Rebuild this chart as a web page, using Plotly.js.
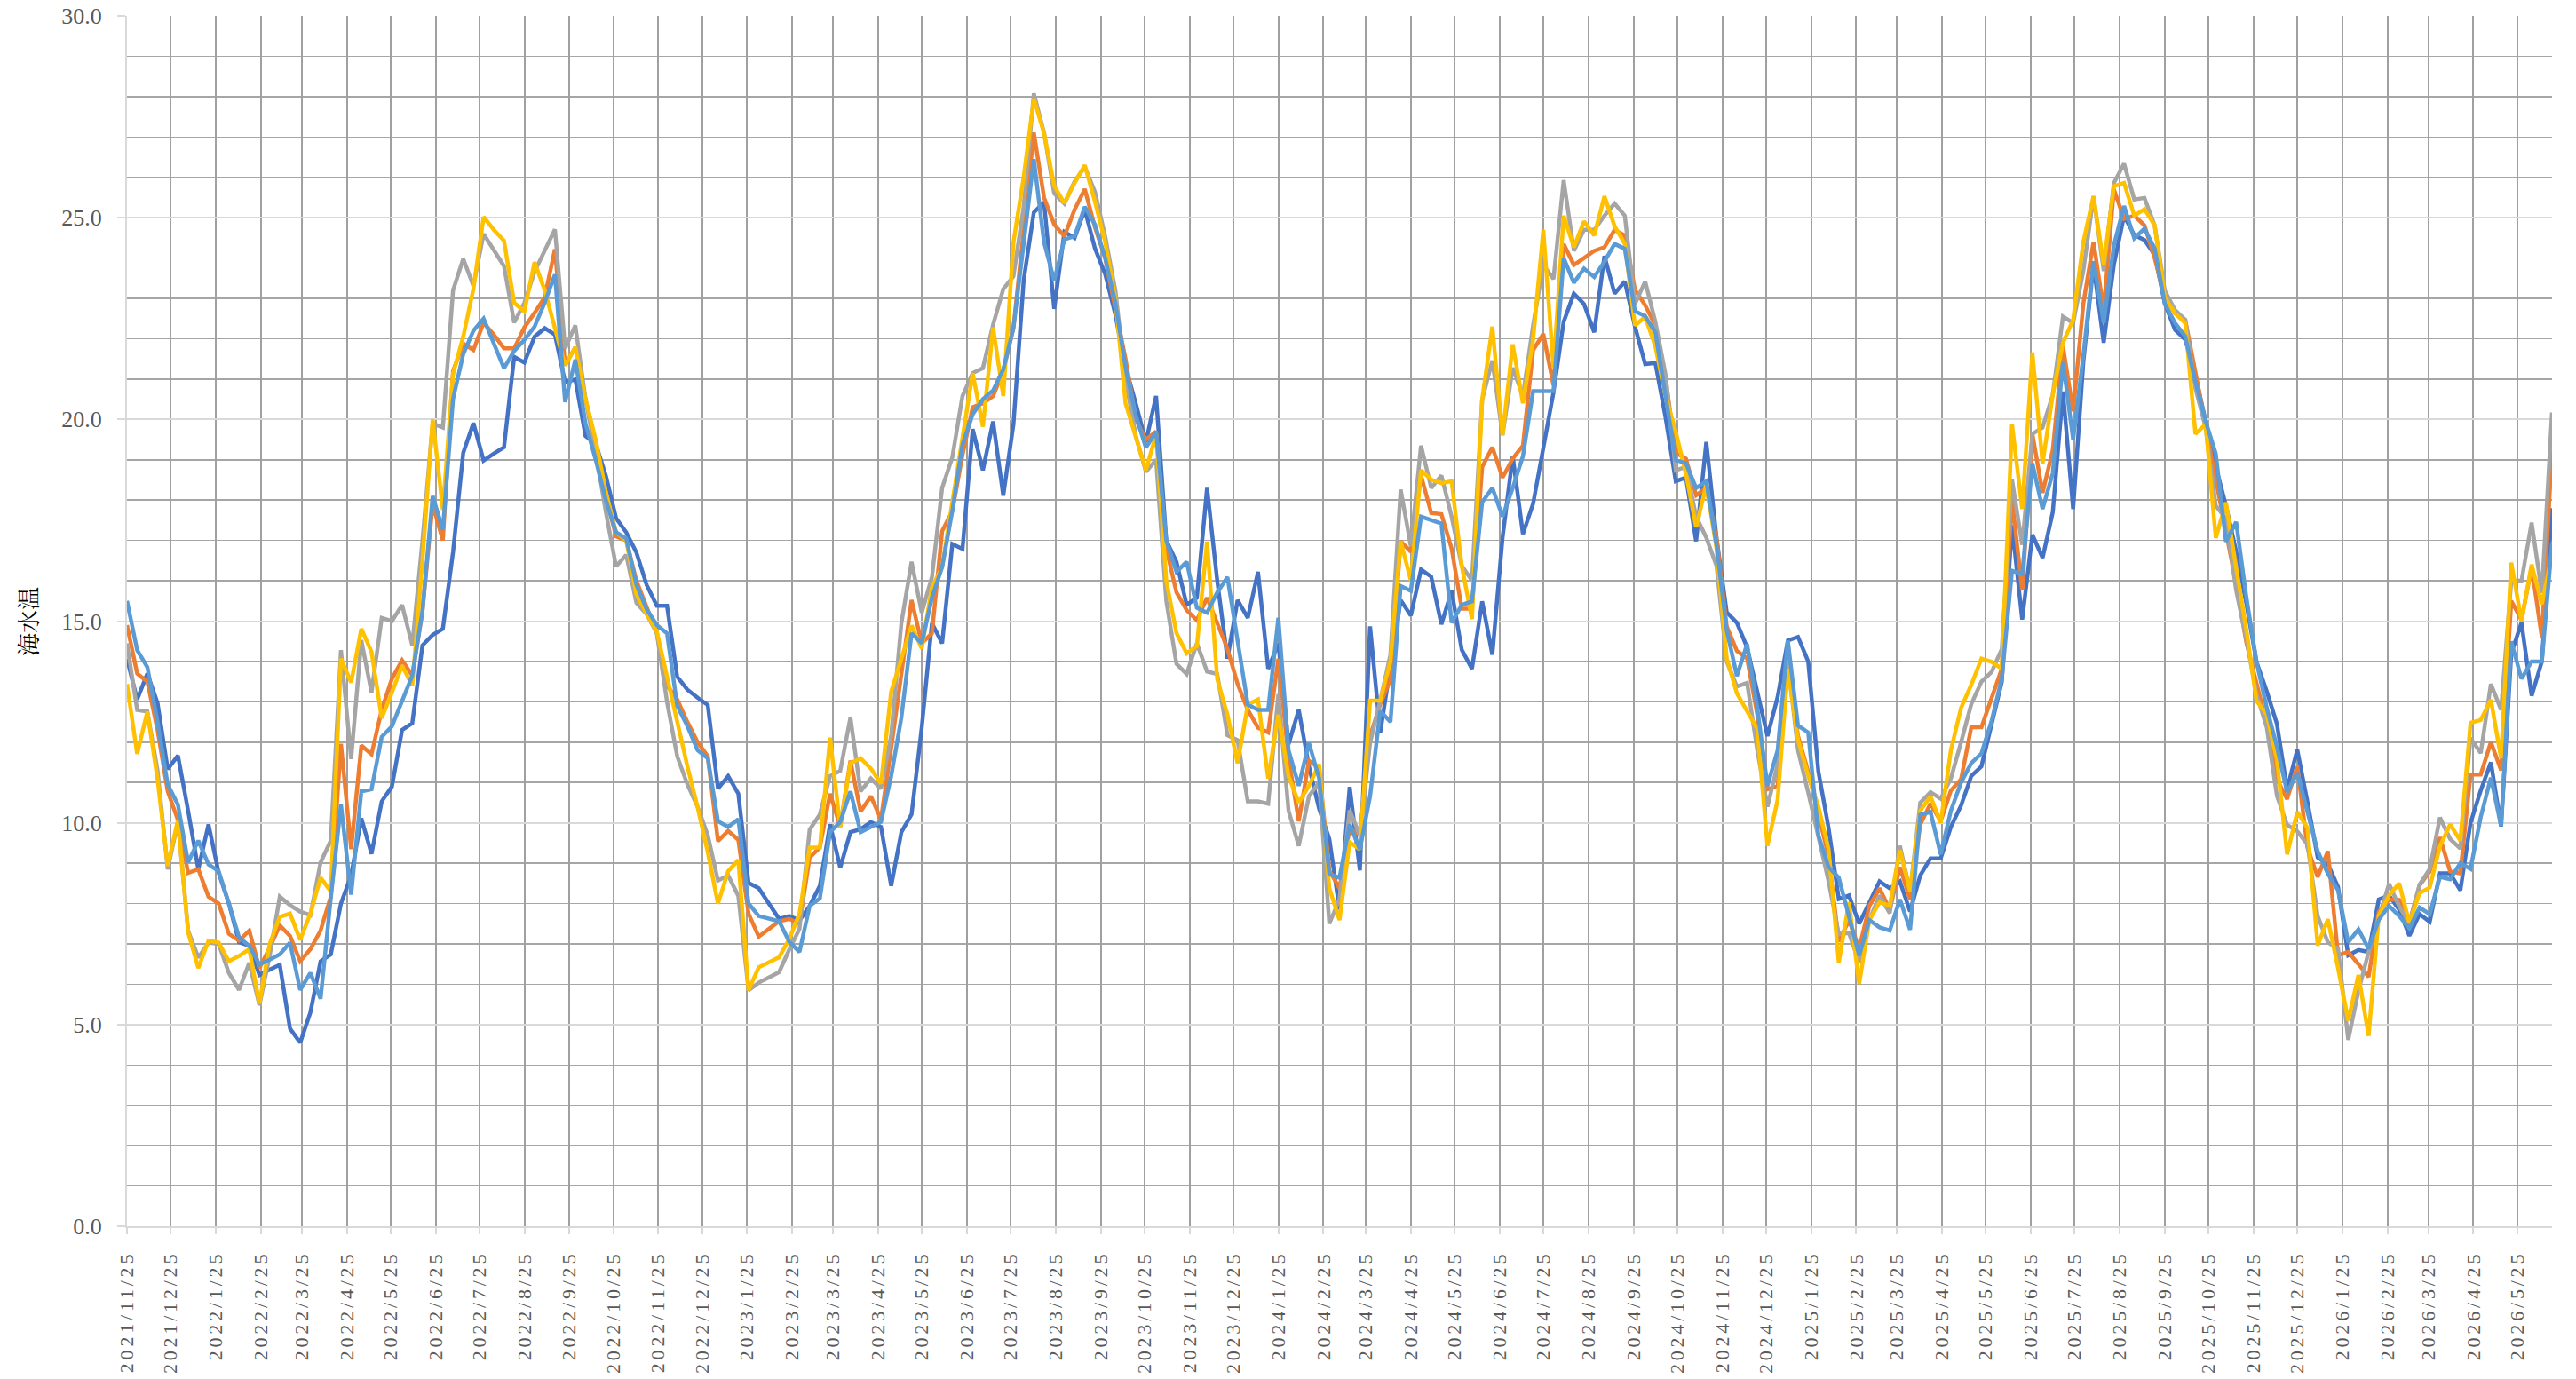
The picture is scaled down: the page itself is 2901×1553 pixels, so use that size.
<!DOCTYPE html>
<html><head><meta charset="utf-8">
<script src="https://cdn.plot.ly/plotly-3.0.1.min.js"></script>
<style>
html,body{margin:0;padding:0;background:#fff;}
#chart{width:2901px;height:1553px;}
.xtick text{letter-spacing:3.8px;}
</style></head><body><div id="chart"></div>
<script>
const startDate = '2021-11-25';
const stepDays = 7;

const tickLabels = ['2021/11/25','2021/12/25','2022/1/25','2022/2/25','2022/3/25','2022/4/25','2022/5/25','2022/6/25','2022/7/25','2022/8/25','2022/9/25','2022/10/25','2022/11/25','2022/12/25',
'2023/1/25','2023/2/25','2023/3/25','2023/4/25','2023/5/25','2023/6/25','2023/7/25','2023/8/25','2023/9/25','2023/10/25','2023/11/25','2023/12/25',
'2024/1/25','2024/2/25','2024/3/25','2024/4/25','2024/5/25','2024/6/25','2024/7/25','2024/8/25','2024/9/25','2024/10/25','2024/11/25','2024/12/25',
'2025/1/25','2025/2/25','2025/3/25','2025/4/25','2025/5/25','2025/6/25','2025/7/25','2025/8/25','2025/9/25','2025/10/25','2025/11/25','2025/12/25',
'2026/1/25','2026/2/25','2026/3/25','2026/4/25','2026/5/25'];

const seriesBlue = [
14.07,13.06,13.7,12.97,11.33,11.67,10.3,8.85,9.96,8.76,
8.0,7.04,6.95,6.23,6.36,6.48,4.9,4.55,5.3,6.57,
6.74,8.0,8.7,10.11,9.23,10.53,10.9,12.3,12.47,14.4,
14.66,14.81,16.71,19.17,19.91,18.98,19.15,19.31,21.55,21.41,
22.05,22.26,22.1,20.92,20.99,19.59,19.4,18.6,17.55,17.2,
16.7,15.9,15.38,15.38,13.62,13.3,13.1,12.92,10.85,11.16,
10.72,8.51,8.38,8.0,7.62,7.69,7.58,7.94,8.44,9.96,
8.89,9.77,9.84,10.02,9.9,8.44,9.77,10.21,12.36,14.95,
14.45,16.91,16.79,19.76,18.74,19.95,18.11,19.88,23.44,25.13,
25.38,22.74,24.65,24.5,25.2,24.24,23.6,22.6,21.3,20.4,
19.44,20.58,17.0,16.47,15.4,15.58,18.3,16.0,14.07,15.52,
15.08,16.22,13.82,14.45,11.95,12.8,11.4,10.35,9.6,7.85,
10.89,8.82,14.87,12.24,13.91,15.52,15.14,16.28,16.1,14.92,
15.75,14.29,13.82,15.49,14.17,17.07,19.09,17.16,17.91,19.26,
20.67,22.42,23.12,22.86,22.16,24.05,23.12,23.42,22.3,21.37,
21.4,20.05,18.47,18.56,16.98,19.44,17.07,15.22,14.96,14.35,
13.2,12.15,13.12,14.52,14.61,14.0,11.27,9.87,8.11,8.2,
7.5,8.03,8.55,8.38,8.55,7.8,8.7,9.12,9.12,9.9,
10.43,11.16,11.4,12.45,13.5,17.38,15.04,17.14,16.57,17.7,
20.69,17.78,21.42,23.84,21.9,23.84,25.05,24.57,24.45,24.08,
22.87,22.22,21.98,21.09,19.96,18.83,17.86,16.73,15.44,13.99,
13.26,12.45,10.84,11.81,10.51,9.14,8.98,8.41,6.72,6.85,
6.8,8.1,8.2,7.85,7.2,7.74,7.55,8.75,8.75,8.33,
10.0,10.8,11.5,9.91,14.2,14.96,13.15,14.0,17.8];

const seriesOrange = [
14.9,13.7,13.5,12.3,10.78,10.07,8.76,8.85,8.17,8.0,
7.25,7.08,7.33,6.4,6.9,7.46,7.2,6.57,6.87,7.33,
8.17,11.96,9.35,11.92,11.7,12.8,13.57,14.03,13.65,15.25,
17.9,17.0,21.2,21.88,21.72,22.4,22.1,21.76,21.76,22.28,
22.64,23.03,24.22,21.34,21.79,20.5,19.4,18.1,17.1,17.0,
16.0,15.38,14.7,13.4,13.06,12.5,12.0,11.65,9.55,9.8,
9.58,7.75,7.18,7.37,7.56,7.62,7.5,9.14,9.39,10.72,
9.9,11.54,10.28,10.66,10.09,11.86,13.69,15.52,14.45,14.7,
17.23,17.73,19.12,20.3,20.4,20.58,21.2,22.28,24.68,27.11,
25.5,24.83,24.54,25.2,25.71,24.76,24.0,22.8,21.5,20.0,
19.5,19.7,16.8,15.71,15.27,15.02,15.58,14.95,14.32,13.44,
12.8,12.36,12.24,14.07,11.6,10.04,11.54,11.36,8.82,8.38,
9.87,9.69,12.15,12.94,13.56,16.98,16.72,18.61,17.68,17.65,
16.8,15.31,15.31,18.82,19.31,18.56,19.03,19.35,21.72,22.12,
20.84,24.35,23.83,24.0,24.18,24.27,24.7,24.56,23.21,22.83,
22.33,21.02,19.17,19.03,18.12,18.3,17.07,14.87,14.26,14.08,
12.68,10.83,10.92,14.0,12.15,11.27,10.22,9.17,7.06,7.59,
6.89,7.94,8.38,7.85,8.9,8.11,9.96,10.48,10.04,10.8,
11.08,12.37,12.37,13.1,13.82,18.02,15.76,19.64,18.18,19.24,
21.82,20.2,22.87,24.4,22.71,25.7,24.97,25.05,24.81,24.0,
23.03,22.63,22.47,21.17,19.8,18.51,17.22,15.92,14.47,13.5,
12.45,11.08,10.59,11.4,9.38,8.66,9.3,6.72,6.8,6.5,
6.18,7.8,8.1,8.09,7.52,8.45,8.8,9.64,8.8,8.75,
11.2,11.2,12.0,11.3,15.5,15.03,16.34,14.6,19.25];

const seriesGray = [
14.45,12.8,12.76,11.3,8.85,10.03,7.33,6.66,7.03,7.0,
6.28,5.86,6.53,5.48,6.7,8.17,7.96,7.8,7.71,9.02,
9.56,14.28,11.58,14.53,13.23,15.08,15.0,15.4,14.4,17.0,
19.9,19.8,23.2,23.98,23.31,24.6,24.2,23.8,22.4,22.89,
23.66,24.2,24.71,21.76,22.33,20.5,19.2,17.7,16.36,16.64,
15.45,15.17,14.7,13.0,11.65,10.95,10.4,9.69,8.57,8.7,
8.19,5.85,6.04,6.17,6.3,6.86,7.37,9.83,10.21,11.16,
11.29,12.61,10.78,11.1,10.85,12.17,14.95,16.47,15.21,16.09,
18.3,19.06,20.58,21.15,21.27,22.35,23.23,23.55,25.27,28.08,
27.11,25.6,25.35,25.9,26.26,25.64,24.54,23.2,21.0,19.6,
18.7,19.0,15.5,13.94,13.69,14.45,13.75,13.69,12.17,12.05,
10.53,10.53,10.47,13.19,10.3,9.43,10.66,11.01,7.5,8.11,
10.31,9.69,11.98,13.03,14.17,18.26,16.86,19.35,18.3,18.61,
17.59,16.37,16.01,20.49,21.46,19.61,21.28,20.58,22.33,23.83,
23.48,25.93,24.18,24.7,24.7,25.05,25.35,25.05,22.86,23.42,
22.42,21.11,18.74,18.82,17.59,17.07,16.37,14.0,13.38,13.47,
11.8,10.4,11.45,14.0,11.8,10.75,9.69,8.55,7.24,7.27,
6.54,7.59,8.2,7.76,9.43,8.29,10.5,10.76,10.6,11.1,
12.0,12.94,13.5,13.74,14.31,18.51,16.89,19.64,19.8,20.61,
22.55,22.39,23.68,25.53,23.68,25.86,26.34,25.45,25.49,24.81,
23.19,22.71,22.47,20.77,19.8,17.86,17.54,15.76,14.55,13.18,
12.37,10.67,9.95,9.79,9.46,7.69,7.04,6.88,4.62,5.83,
6.8,7.69,8.49,7.93,7.5,8.47,8.86,10.13,9.6,9.36,
12.1,11.73,13.44,12.8,16.0,16.0,17.44,15.7,20.17];

const seriesYellow = [
13.44,11.71,12.76,11.08,8.93,10.07,7.29,6.4,7.08,7.03,
6.57,6.7,6.87,5.52,7.0,7.67,7.75,7.1,7.75,8.64,
8.3,14.07,13.48,14.81,14.24,12.6,13.23,13.9,13.4,16.5,
20.0,17.76,21.13,22.05,23.24,25.02,24.7,24.43,22.89,22.68,
23.9,23.2,22.26,21.34,21.79,20.5,19.5,18.2,17.2,17.0,
15.66,15.17,14.74,13.6,12.5,11.4,10.39,9.27,8.0,8.8,
9.08,5.85,6.42,6.55,6.67,7.12,7.75,9.39,9.39,12.11,
9.9,11.48,11.6,11.35,10.97,13.25,14.07,14.89,14.32,15.84,
16.34,17.99,19.63,21.15,19.82,22.28,20.58,24.39,26.0,27.95,
27.1,25.79,25.36,25.86,26.3,25.4,24.4,23.0,20.4,19.6,
18.74,19.63,16.0,14.7,14.2,14.38,16.97,13.56,12.68,11.48,
12.93,13.06,11.1,12.68,11.16,10.5,10.92,11.45,8.38,7.59,
9.52,9.34,13.03,13.03,14.0,16.98,16.01,18.74,18.51,18.42,
18.47,16.37,15.05,20.49,22.3,19.61,21.86,20.4,21.98,24.7,
21.28,25.05,24.27,24.91,24.56,25.53,24.79,24.35,22.33,22.54,
21.81,20.58,19.7,18.65,17.33,18.38,16.8,14.08,13.21,12.77,
12.33,9.43,10.57,13.82,12.06,11.18,10.4,9.34,6.54,8.03,
6.01,7.59,8.03,7.95,9.32,8.3,10.3,10.66,10.0,11.8,
12.85,13.42,14.07,13.99,13.82,19.88,17.78,21.66,18.91,20.61,
21.9,22.47,24.4,25.53,23.84,25.78,25.86,25.05,25.21,24.81,
23.03,22.63,22.39,19.64,19.88,17.06,17.94,16.33,14.79,13.02,
12.69,11.56,9.22,10.27,9.87,6.96,7.61,6.4,5.1,6.23,
4.72,7.7,8.2,8.5,7.52,8.26,8.4,9.42,9.96,9.56,
12.48,12.55,13.05,11.6,16.45,15.0,16.4,15.42,16.66];

const seriesLightBlue = [
15.5,14.28,13.86,12.5,10.95,10.45,9.02,9.56,8.97,8.8,
8.0,7.16,6.95,6.49,6.61,6.74,7.03,5.86,6.28,5.64,
8.13,10.45,8.22,10.78,10.83,12.13,12.39,13.0,13.65,15.25,
18.1,17.27,20.5,21.62,22.2,22.5,21.9,21.27,21.7,21.97,
22.3,22.9,23.59,20.43,21.48,19.9,19.0,18.0,17.2,17.05,
15.9,15.3,14.9,14.7,12.9,12.4,11.8,11.6,10.04,9.9,
10.09,8.0,7.69,7.62,7.56,7.05,6.8,7.94,8.13,9.77,
10.02,10.78,9.77,9.9,10.02,11.16,12.61,14.7,14.45,15.58,
16.34,17.73,19.38,20.13,20.5,20.72,21.24,22.26,24.39,26.45,
24.39,23.44,24.46,24.54,25.27,24.83,24.0,22.9,21.3,20.1,
19.3,19.7,17.0,16.22,16.47,15.33,15.21,15.71,16.09,14.57,
12.93,12.8,12.8,15.08,11.8,10.92,11.98,11.1,8.73,8.64,
9.96,9.34,10.66,12.77,12.5,15.87,15.75,17.59,17.5,17.42,
14.96,15.4,15.49,17.95,18.3,17.59,18.3,19.09,20.7,20.7,
20.7,24.0,23.39,23.74,23.53,23.91,24.35,24.23,22.68,22.56,
22.16,20.58,19.0,18.91,18.3,18.47,16.89,14.78,13.64,14.43,
12.85,10.92,11.8,14.52,12.41,12.24,9.69,8.9,8.64,7.68,
6.71,7.59,7.41,7.33,8.1,7.35,10.2,10.27,9.22,10.3,
11.0,11.48,11.72,12.53,13.58,16.25,16.17,18.91,17.78,18.67,
21.42,19.5,21.58,23.92,22.39,24.32,25.29,24.49,24.73,24.24,
22.87,22.39,22.06,20.93,19.96,19.15,16.97,17.46,15.6,13.99,
12.85,11.89,10.76,11.24,10.27,9.3,8.74,8.33,7.04,7.36,
6.88,7.6,7.94,7.69,7.38,7.9,7.74,8.66,8.6,9.0,
8.86,10.14,11.12,9.92,14.5,13.57,14.0,14.0,16.94];

const seriesList = [
  {y: seriesBlue, color: '#4472C4'},
  {y: seriesOrange, color: '#ED7D31'},
  {y: seriesGray, color: '#A5A5A5'},
  {y: seriesYellow, color: '#FFC000'},
  {y: seriesLightBlue, color: '#5B9BD5'}
];

function weeklyDates(start, step, n) {
  const p = start.split('-').map(Number);
  const t0 = Date.UTC(p[0], p[1]-1, p[2]);
  const out = [];
  for (let i = 0; i < n; i++) out.push(new Date(t0 + i*step*86400000).toISOString().slice(0,10));
  return out;
}
const dates = weeklyDates(startDate, stepDays, seriesBlue.length);
const tickVals = tickLabels.map(s => {
  const p = s.split('/');
  return p[0] + '-' + p[1].padStart(2,'0') + '-' + p[2].padStart(2,'0');
});

const traces = seriesList.map(s => ({
  type: 'scatter', mode: 'lines', x: dates, y: s.y,
  line: {color: s.color, width: 4.5},
  hoverinfo: 'skip'
}));

const layout = {
  width: 2901, height: 1553,
  margin: {l: 143, r: 27, t: 18, b: 172, pad: 0},
  paper_bgcolor: '#ffffff', plot_bgcolor: '#ffffff',
  showlegend: false,
  xaxis: {
    type: 'date', range: [dates[0], dates[dates.length-1]],
    tickmode: 'array', tickvals: tickVals, ticktext: tickLabels, tickangle: -90,
    showgrid: true, gridcolor: '#A0A0A0', gridwidth: 2,
    showline: true, linecolor: '#D9D9D9', linewidth: 2,
    ticks: 'outside', ticklen: 7, tickcolor: '#D9D9D9', tickwidth: 2,
    ticklabelstandoff: 10,
    tickfont: {family: 'Liberation Serif, serif', size: 22, color: '#595959'},
    zeroline: false, fixedrange: true, automargin: false
  },
  yaxis: {
    range: [0, 30], tick0: 0, dtick: 5, tickformat: '.1f',
    showgrid: true, gridcolor: '#D9D9D9', gridwidth: 2,
    minor: {dtick: 1, showgrid: true, gridcolor: '#A6A6A6', gridwidth: 1.5, ticks: ''},
    showline: true, linecolor: '#D9D9D9', linewidth: 2,
    ticks: 'outside', ticklen: 9, tickcolor: '#D9D9D9', tickwidth: 2,
    ticklabelstandoff: 12,
    tickfont: {family: 'Liberation Serif, serif', size: 26, color: '#595959'},
    zeroline: false, fixedrange: true, automargin: false
  },
  annotations: [{
    text: '海水温', xref: 'paper', yref: 'paper', x: -0.0412, y: 0.5,
    xanchor: 'center', yanchor: 'middle', textangle: -90, showarrow: false,
    font: {family: 'Noto Serif CJK JP, Noto Sans CJK JP, serif', size: 26, color: '#000000'}
  }]
};

Plotly.newPlot('chart', traces, layout, {displayModeBar: false, staticPlot: true});
</script>
</body></html>
